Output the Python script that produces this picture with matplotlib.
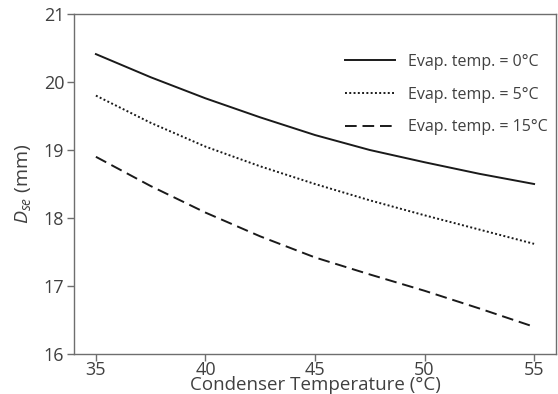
import matplotlib
matplotlib.use('Agg')
import matplotlib.pyplot as plt

plt.rcParams['font.family'] = ['Open Sans', 'DejaVu Sans']
plt.rcParams['mathtext.fontset'] = 'custom'
plt.rcParams['mathtext.it'] = 'Open Sans:italic'
plt.rcParams['mathtext.rm'] = 'Open Sans'

# Condenser temperature (C)
cond_temp = [35, 37.5, 40, 42.5, 45, 47.5, 50, 52.5, 55]
# D_se (mm) for each evaporator temperature
dse_evap0 = [20.41, 20.07, 19.76, 19.48, 19.22, 19.00, 18.82, 18.65, 18.50]
dse_evap5 = [19.80, 19.40, 19.05, 18.76, 18.50, 18.26, 18.04, 17.83, 17.62]
dse_evap15 = [18.90, 18.47, 18.08, 17.73, 17.42, 17.17, 16.93, 16.67, 16.40]
labels = ['Evap. temp. = 0°C', 'Evap. temp. = 5°C', 'Evap. temp. = 15°C']

fig = plt.figure(figsize=(5.58, 3.94), dpi=100)
ax = fig.add_axes([0.1326, 0.1015, 0.8638, 0.863])

ax.plot(cond_temp, dse_evap0, color='#1a1a1a', lw=1.4, ls='-', label=labels[0])
ax.plot(cond_temp, dse_evap5, color='#1a1a1a', lw=1.4, ls=(0, (1, 1.2)), label=labels[1])
ax.plot(cond_temp, dse_evap15, color='#1a1a1a', lw=1.4, ls=(0, (6, 3)), label=labels[2])

ax.set_xlim(34, 56)
ax.set_ylim(16, 21)
ax.set_xticks([35, 40, 45, 50, 55])
ax.set_yticks([16, 17, 18, 19, 20, 21])

for s in ax.spines.values():
    s.set_color('#6e6e6e')
    s.set_linewidth(1.0)
ax.tick_params(direction='out', length=5, width=1.0, color='#6e6e6e',
               labelsize=13, labelcolor='#404040', pad=2)
ax.tick_params(axis='x', pad=0)

ax.set_xlabel('Condenser Temperature (°C)', fontsize=13.5, color='#404040', labelpad=-2)
ax.set_ylabel('$D_{se}$ (mm)', fontsize=14, color='#404040', labelpad=8)

leg = ax.legend(loc='upper right', frameon=False, fontsize=11.5, handlelength=3.1,
                handletextpad=0.8, labelspacing=1.05, bbox_to_anchor=(1.012, 0.925))
for t in leg.get_texts():
    t.set_color('#404040')

fig.savefig('out.png', dpi=100)
